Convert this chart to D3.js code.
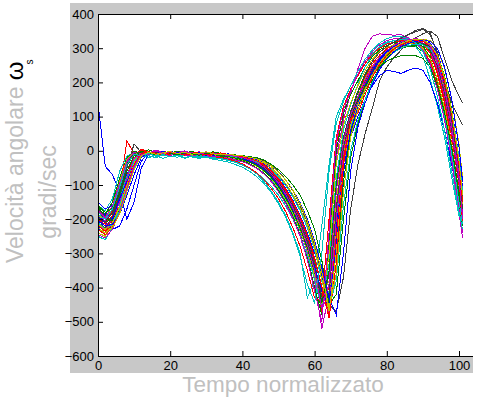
<!doctype html>
<html>
<head>
<meta charset="UTF-8">
<title>Velocità angolare</title>
<script src="https://d3js.org/d3.v7.min.js"></script>
<style>
  body { margin: 0; background: #fff; }
  svg text { font-family: "Liberation Sans", Arial, sans-serif; }
</style>
</head>
<body>
<div id="chart"></div>
<script>

// tempo normalizzato (%), campioni comuni a tutte le curve
var tempo = [0,2,4,6,8,10,12,14,16,18,20,22,24,26,28,30,32,34,36,38,40,42,44,46,48,50,
             52,54,56,58,60,62,64,66,68,70,72,74,76,78,80,82,84,86,88,90,92,94,96,98,100,101];

// velocità angolare (gradi/sec), una curva per ciclo
var s01 = [140,-45,-70,-120,-200,-150,-50,-10,-5,-2, -6,-3,-8,-5,-10,-7,-12,-9,-14,-16, -20,-25,-30,-42,-58,-80,-110,-145,-190,-240, -300,-345,-420,-260,-40,70,130,180,225,260, 285,300,310,318,322,320,305,260,180,70, -60,-130];
var s02 = [-170,-185,-150,-80,-20,-2,-6,3,-4,-1, -8,-2,-6,-3,-9,-4,-10,-8,-12,-16, -20,-28,-40,-55,-78,-105,-140,-180,-230,-290, -370,-470,-360,-90,40,110,170,220,255,280, 295,300,305,308,305,290,250,180,90,-20, -160,-220];
var s03 = [-200,-215,-190,-120,30,-10,-4,-9,-3,-7, -2,-9,-5,-4,-10,-6,-8,-12,-10,-14, -17,-22,-30,-42,-60,-88,-118,-155,-200,-255, -325,-440,-400,-150,20,100,155,205,245,272, 290,300,310,316,318,312,288,230,150,40, -100,-180];
var s04 = [-160,-175,-140,-60,-15,-5,-10,-14,-6,-12, -8,-15,-10,-12,-18,-14,-20,-22,-26,-32, -40,-52,-68,-90,-118,-150,-190,-240,-300,-430, -380,-220,-40,100,150,190,225,255,285,305, 318,322,324,320,305,275,210,130,40,-80, -190,-230];
var s05 = [-220,-230,-200,-140,-70,-20,-2,-6,2,-5, -3,-6,0,-8,-4,-7,-5,-10,-12,-14, -18,-24,-34,-48,-70,-100,-135,-178,-228,-290, -380,-520,-420,-160,10,95,150,200,240,268, 288,300,308,314,316,312,290,240,160,50, -90,-170];
var s06 = [-240,-250,-220,-170,-100,-35,-8,-4,-10,-3, -7,-4,-9,-6,-5,-11,-8,-10,-15,-18, -22,-28,-38,-52,-72,-100,-130,-168,-215,-270, -340,-430,-450,-220,-10,80,140,195,235,262, 282,295,302,308,312,310,295,250,175,70, -60,-150];
var s07 = [-180,-200,-210,-160,-90,-20,0,-8,-4,-10, -6,-9,-4,-10,-8,-12,-9,-11,-10,-13, -15,-18,-22,-30,-42,-60,-85,-118,-160,-210, -275,-360,-450,-470,-370,-170,-40,50,125,205, 245,272,295,315,330,342,350,335,270,205, 160,140];
var s08 = [-150,-170,-160,-120,-70,-25,-8,-12,-5,-9, -4,-10,-7,-12,-9,-13,-10,-14,-16,-20, -25,-32,-42,-56,-76,-102,-135,-175,-225,-285, -350,-410,-380,-220,-60,40,100,150,190,220, 235,232,226,236,242,235,200,140,60,-40, -150,-200];
var s09 = [-200,-210,-195,-150,-80,-20,-4,-9,-2,-7, -3,-8,-6,-2,-8,-5,-9,-7,-10,-12, -14,-18,-25,-36,-52,-75,-102,-135,-175,-225, -290,-370,-490,-330,-90,50,120,175,220,255, 278,292,300,305,308,306,292,255,185,90, -40,-120];
var s10 = [-210,-225,-205,-150,-75,-15,5,-4,-8,-2, -6,-10,-3,-7,-5,-10,-6,-12,-14,-17, -20,-26,-36,-50,-70,-96,-128,-166,-212,-268, -345,-470,-300,20,100,105,160,215,255,280, 298,310,318,322,320,312,285,225,140,20, -130,-210];
var s11 = [-180,-195,-185,-140,-75,-25,-10,-15,-20,-12, -18,-14,-22,-16,-20,-15,-22,-18,-24,-28, -32,-40,-50,-65,-85,-112,-145,-185,-235,-295, -360,-440,-410,-200,-30,70,135,190,232,262, 285,298,306,312,315,312,300,255,180,80, -60,-160];
var s12 = [-190,-205,-175,-100,-35,-8,-3,-7,-2,-9, -5,-3,-8,-5,-9,-6,-10,-8,-13,-15, -19,-25,-35,-50,-72,-102,-138,-180,-232,-295, -375,-460,-280,-20,90,170,240,300,335,342, 340,338,340,330,318,300,260,190,100,-20, -170,-240];
var s13 = [-230,-240,-215,-160,-85,-28,-6,-2,-9,-4, -10,-5,-8,-12,-7,-10,-13,-9,-15,-18, -21,-27,-36,-50,-70,-98,-130,-170,-218,-275, -345,-420,-380,-150,20,105,160,210,248,275, 292,302,310,315,318,315,300,250,170,60, -80,-160];
var s14 = [-170,-190,-185,-130,-50,20,-5,-10,-6,-12, -8,-5,-11,-7,-12,-9,-14,-11,-16,-18, -22,-28,-36,-48,-64,-88,-118,-155,-200,-255, -320,-400,-470,-300,-60,60,130,185,230,265, 292,312,328,340,352,358,345,285,205,140, 95,76];
var s15 = [-190,-210,-230,-220,-170,-100,-30,-8,-3,-7, -2,-6,-9,-4,-8,-11,-7,-12,-10,-15, -18,-22,-28,-38,-52,-72,-98,-130,-170,-220, -285,-370,-440,-270,-60,60,130,180,225,262, 288,302,312,318,322,322,315,285,220,120, -20,-110];
var s16 = [-160,-180,-165,-110,-40,-6,-9,-4,-11,-6, -9,-13,-7,-10,-14,-10,-15,-18,-20,-25, -30,-38,-50,-66,-88,-116,-150,-192,-245,-310, -400,-480,-260,0,110,165,205,245,275,295, 308,316,320,322,318,305,275,205,115,0, -140,-200];
var s17 = [-220,-235,-215,-170,-95,-30,-6,-10,-5,-8, -12,-6,-9,-5,-11,-8,-6,-10,-13,-16, -19,-24,-32,-44,-62,-86,-116,-152,-195,-248, -315,-400,-480,-250,-20,85,145,195,238,268, 290,304,314,320,324,320,305,265,195,100, -50,-140];
var s18 = [-250,-260,-225,-160,-80,-30,-12,-20,-14,-22, -15,-19,-12,-18,-22,-16,-20,-24,-28,-34, -42,-52,-65,-82,-104,-130,-162,-200,-248,-305, -375,-460,-330,-80,60,135,195,245,280,302, 315,322,325,324,315,298,260,190,100,-10, -150,-215];
var s19 = [-200,-220,-200,-150,-80,-22,-8,-3,-10,-5, -9,-4,-10,-6,-3,-9,-12,-8,-14,-17, -20,-26,-34,-46,-64,-90,-122,-160,-205,-262, -335,-430,-470,-200,0,95,150,202,244,272, 292,305,312,318,320,316,300,258,182,80, -70,-180];
var s20 = [-190,-200,-160,-90,-25,-5,-10,-3,-8,-12, -6,-11,-8,-13,-9,-12,-15,-13,-18,-22, -27,-34,-45,-60,-80,-108,-142,-182,-230,-290, -365,-450,-300,-40,75,140,190,235,268,290, 302,310,315,316,312,300,270,210,125,15, -120,-190];
var s21 = [-210,-225,-195,-135,-60,-12,-6,-11,-7,-3, -9,-6,-12,-8,-4,-10,-8,-13,-11,-16, -19,-25,-34,-47,-66,-92,-124,-162,-208,-265, -335,-425,-420,-170,10,95,155,205,245,272, 290,302,310,315,318,314,296,248,168,60, -85,-170];
var s22 = [-240,-180,-200,-140,-90,-40,-10,-4,-8,-3, -10,-5,-7,-11,-6,-9,-13,-10,-15,-19, -24,-30,-40,-54,-74,-100,-132,-170,-215,-272, -340,-410,-460,-280,-40,80,140,192,236,268, 290,305,315,320,325,322,310,272,200,100, -40,-150];
var s23 = [-185,-200,-205,-170,-110,-45,-12,-6,-3,-8, -5,-2,-7,-4,-9,-6,-3,-8,-10,-12, -14,-17,-20,-27,-40,-55,-75,-100,-130,-175, -230,-320,-450,-420,-200,-20,80,150,205,245, 272,290,300,305,310,312,305,280,220,120, -30,-120];
var s24 = [-200,-215,-175,-110,-45,-10,2,-5,-9,-4, -11,-7,-13,-9,-15,-12,-17,-20,-24,-30, -38,-50,-65,-85,-110,-140,-178,-225,-280,-350, -430,-440,-200,40,130,180,220,255,282,300, 312,318,322,320,312,295,262,195,110,10, -120,-200];
var s25 = [-210,-230,-215,-175,-110,-50,-15,-7,-11,-5, -9,-13,-6,-10,-15,-8,-12,-10,-14,-18, -22,-26,-32,-42,-56,-76,-102,-135,-175,-225, -290,-380,-460,-380,-160,0,90,150,200,240, 268,288,300,308,312,310,298,268,205,115, -20,-120];
var s26 = [-175,-195,-160,-95,-30,-4,-8,-12,-5,-10, -14,-8,-12,-16,-10,-14,-18,-15,-22,-26, -32,-40,-52,-68,-90,-120,-155,-198,-250,-320, -410,-500,-240,30,120,175,225,262,290,310, 322,328,330,326,315,295,255,180,90,-30, -180,-255];
var s27 = [-215,-230,-210,-165,-100,-40,-12,-5,-2,-8, -4,-9,-5,-11,-7,-4,-10,-7,-12,-14, -17,-21,-27,-36,-50,-70,-96,-128,-168,-218, -285,-375,-470,-300,-40,75,135,180,220,250, 275,292,305,315,322,326,322,300,240,150, 20,-80];
var s28 = [-195,-210,-180,-115,-45,-8,-3,-9,-5,-11, -7,-3,-9,-6,-12,-8,-10,-14,-12,-17, -21,-27,-37,-51,-70,-96,-128,-166,-212,-270, -345,-440,-360,-110,40,115,175,225,262,288, 305,318,330,340,348,355,340,290,200,90, -50,-140];
var s29 = [-205,-220,-215,-185,-130,-70,-20,-5,-9,-2, -7,-4,-10,-6,-9,-13,-8,-11,-9,-14, -16,-20,-25,-33,-45,-62,-85,-115,-152,-200, -262,-340,-430,-480,-300,-60,70,140,195,238, 268,290,305,314,320,324,320,300,245,150, 10,-90];
var s30 = [-165,-180,-170,-125,-60,-15,-2,-7,-11,-4, -8,-12,-5,-9,-13,-7,-11,-15,-17,-21, -26,-33,-43,-58,-78,-105,-138,-178,-226,-285, -355,-445,-350,-100,30,100,150,190,222,245, 262,272,278,280,278,270,245,190,110,10, -120,-190];
var s31 = [-230,-245,-225,-180,-110,-40,-8,-3,-7,-12, -5,-8,-11,-4,-7,-12,-9,-6,-11,-15, -18,-23,-30,-41,-58,-82,-112,-148,-192,-246, -312,-395,-490,-330,-40,95,110,165,215,252, 280,298,310,318,322,320,308,275,205,105, -40,-150];
var s32 = [-185,-200,-170,-105,-40,-10,-14,-8,-16,-11, -17,-13,-20,-15,-22,-18,-25,-28,-33,-40, -48,-60,-76,-96,-122,-155,-195,-245,-310,-390, -445,-300,-60,80,145,190,232,268,295,315, 328,335,334,328,315,290,240,160,60,-60, -180,-230];
var s33 = [-245,-255,-230,-180,-110,-45,-12,-5,-1,-7, -3,-8,-2,-6,-10,-5,-8,-11,-13,-16, -20,-26,-35,-48,-68,-95,-128,-168,-216,-275, -350,-460,-390,-120,30,105,158,208,246,274, 294,308,318,325,328,325,308,262,180,70, -80,-200];
var s34 = [-225,-240,-225,-185,-120,-55,-15,-4,-10,-6, -2,-8,-5,-10,-7,-3,-9,-12,-10,-13, -15,-19,-24,-32,-44,-62,-86,-116,-155,-205, -270,-355,-460,-360,-120,40,120,178,222,258, 284,302,314,322,326,324,312,280,215,115, -30,-130];

var serie = [s01,s02,s03,s04,s05,s06,s07,s08,s09,s10,s11,s12,s13,s14,s15,s16,s17,
             s18,s19,s20,s21,s22,s23,s24,s25,s26,s27,s28,s29,s30,s31,s32,s33,s34];

var tickX = [0,20,40,60,80,100];
var tickY = [-600,-500,-400,-300,-200,-100,0,100,200,300,400];

// ordine colori stile matlab: b g r c m y k
var coloriSerie = ['#0000ff','#008000','#ff0000','#00bfbf','#bf00bf','#bfbf00','#404040'];

var W = 478, H = 402;

var svg = d3.select('#chart')
    .append('svg')
    .attr('width', W)
    .attr('height', H)

// sfondo grigio della figura
svg.append('rect')
    .attr('x', 70).attr('y', 3)
    .attr('width', 403).attr('height', 370)
    .attr('fill', '#c8c8c8')

var x = d3.scaleLinear().domain([0, 100]).range([98, 459]);
var y = d3.scaleLinear().domain([-600, 400]).range([356, 14]);

// area assi
svg.append('rect')
    .attr('x', 98).attr('y', 14)
    .attr('width', 380).attr('height', 342)
    .attr('fill', '#fff')

var linea = d3.line()
    .x(function(d, i) { return x(tempo[i]); })
    .y(function(d) { return y(d); });

svg.append('g')
    .attr('class', 'curve')
    .selectAll('path')
    .data(serie)
    .enter()
    .append('path')
    .attr('d', linea)
    .attr('fill', 'none')
    .attr('stroke', function(d, i) { return coloriSerie[i % coloriSerie.length]; })
    .attr('stroke-width', 1)
    .attr('shape-rendering', 'crispEdges')

// assi
var assebasso = svg.append('g')
    .attr('transform', 'translate(0,356)')
    .call(d3.axisBottom(x).tickValues(tickX).tickSizeInner(-5).tickSizeOuter(0).tickPadding(5))

var assesx = svg.append('g')
    .attr('transform', 'translate(98,0)')
    .call(d3.axisLeft(y).tickValues(tickY).tickSizeInner(-5).tickSizeOuter(0).tickPadding(4))

var assealto = svg.append('g')
    .attr('transform', 'translate(0,14)')
    .call(d3.axisTop(x).tickValues(tickX).tickSizeInner(-5).tickSizeOuter(0).tickFormat(function() { return ''; }))

svg.selectAll('.domain').remove();
svg.selectAll('.tick text')
    .attr('font-size', 13)
    .attr('font-family', '"Liberation Sans", Arial, sans-serif')
    .attr('fill', '#000')
svg.selectAll('.tick line').attr('stroke', '#000')

// cornice
svg.append('path')
    .attr('d', 'M98.5,14V357 M98,14.5H473 M98,356.5H473')
    .attr('stroke', '#000')
    .attr('fill', 'none')

// ritaglio a destra
svg.append('rect')
    .attr('x', 473).attr('y', 0)
    .attr('width', 5).attr('height', H)
    .attr('fill', '#fff')

// etichette
svg.append('text')
    .attr('x', 283).attr('y', 392)
    .attr('text-anchor', 'middle')
    .attr('font-size', 22.5)
    .attr('fill', '#c0c0c0')
    .text('Tempo normalizzato')

var ylab = svg.append('text')
    .attr('transform', 'translate(23,263) rotate(-90)')
    .attr('font-size', 23)
    .attr('fill', '#c0c0c0')
ylab.append('tspan').text('Velocità angolare ')
ylab.append('tspan').attr('fill', '#000').attr('font-size', 24).text('ω')
ylab.append('tspan').attr('fill', '#000').attr('font-size', 10).attr('dx', -3).attr('dy', 10).text('s')

svg.append('text')
    .attr('transform', 'translate(56,192) rotate(-90)')
    .attr('text-anchor', 'middle')
    .attr('font-size', 23)
    .attr('fill', '#c0c0c0')
    .text('gradi/sec')

</script>
</body>
</html>
